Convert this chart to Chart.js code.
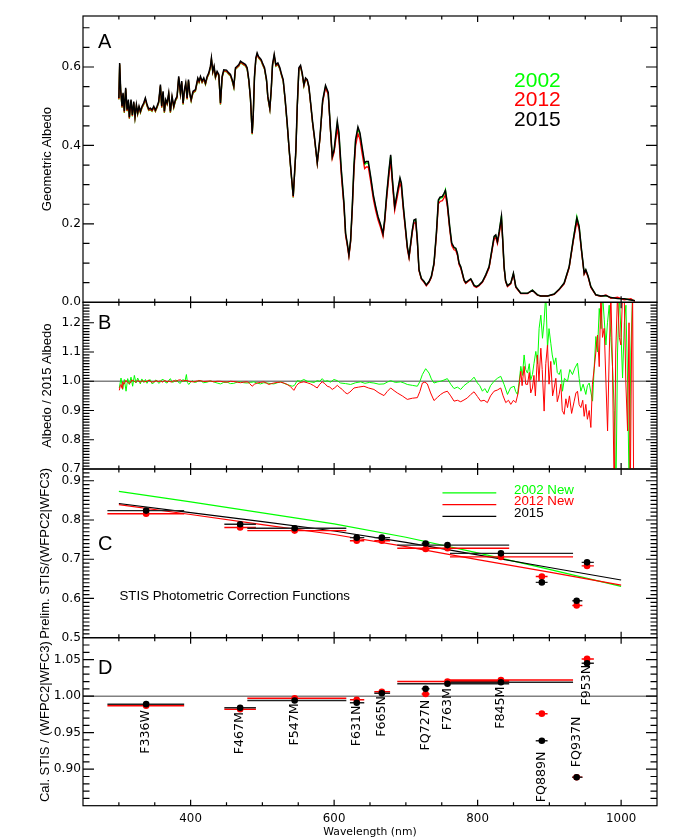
<!DOCTYPE html>
<html><head><meta charset="utf-8">
<script src="https://cdn.jsdelivr.net/npm/chart.js@4.4.1/dist/chart.umd.min.js"></script>
<style>
html,body{margin:0;padding:0;background:#fff;}
#wrap{position:relative;width:692px;height:840px;overflow:hidden;}
#wrap canvas{position:absolute;left:0;top:0;}
</style>
</head><body>
<div id="wrap">
<canvas id="cD" width="692" height="840"></canvas>
<canvas id="cC" width="692" height="840"></canvas>
<canvas id="cB" width="692" height="840"></canvas>
<canvas id="cA" width="692" height="840"></canvas>
</div>
<script>
// ---------------- DATA ----------------
// Panel A: geometric albedo spectra
const wavelengthA = [
300.0,301.1,302.5,304.4,305.8,307.6,309.5,311.4,313.2,314.6,
316.9,318.8,320.7,322.5,324.4,326.2,328.1,330.0,332.3,334.6,
336.9,339.3,341.6,343.9,346.2,348.6,350.9,353.2,355.5,357.9,
359.7,361.6,363.4,365.3,367.2,369.5,371.8,374.1,376.5,378.8,
381.1,383.4,385.8,387.6,389.5,391.4,393.2,395.1,397.0,398.8,
400.7,403.4,406.7,410.0,411.8,413.7,416.0,418.3,420.7,423.0,
425.3,427.6,429.0,430.9,432.7,434.6,436.9,439.3,441.6,443.9,
446.2,450.0,453.2,455.5,457.9,460.2,462.5,464.8,467.2,469.5,
471.8,474.1,476.5,478.8,481.1,483.4,485.8,487.2,489.0,490.9,
492.7,494.6,496.5,498.3,500.2,503.0,505.8,507.6,510.4,512.3,
514.1,516.5,518.8,521.6,524.4,526.2,529.0,531.8,534.6,537.4,
540.2,543.0,546.7,548.6,550.9,553.2,555.5,557.9,560.2,562.5,
564.8,567.2,570.0,572.7,576.5,580.2,584.0,588.0,591.8,595.0,
597.4,600.0,604.4,606.7,610.0,613.7,616.0,618.3,620.6,623.0,
625.3,627.6,629.9,633.2,636.0,639.2,642.5,644.8,647.6,650.9,
654.6,657.9,661.1,664.8,668.1,670.4,673.2,676.5,678.8,681.1,
684.4,687.1,689.5,691.8,693.7,696.5,699.7,702.0,704.4,706.7,
709.0,711.3,713.7,716.0,718.3,721.6,725.3,728.5,732.3,735.5,
739.2,742.5,745.3,747.6,750.9,753.2,755.1,757.8,761.1,763.9,
767.1,769.5,771.8,774.1,776.4,778.8,781.1,783.4,786.7,790.4,
792.7,795.1,798.3,802.0,806.7,811.3,816.0,820.6,823.0,825.3,
827.6,830.0,833.2,835.0,836.9,839.0,841.6,846.2,849.9,853.2,
860.2,869.5,876.4,883.4,888.0,897.4,906.7,913.6,920.6,927.6,
933.2,938.3,941.5,944.8,948.5,950.8,954.1,957.8,964.8,971.8,
978.8,985.7,995.0,1004.3,1013.6,1019.2];
const albedo2015 = [
.521,.610,.542,.500,.534,.487,.547,.491,.517,.472,
.517,.478,.512,.474,.504,.483,.500,.487,.500,.508,
.521,.504,.493,.495,.491,.500,.490,.500,.512,.555,
.500,.538,.487,.517,.508,.534,.487,.525,.500,.517,
.525,.576,.534,.564,.508,.542,.559,.521,.568,.534,
.517,.538,.542,.572,.564,.576,.564,.572,.559,.576,
.585,.602,.623,.589,.602,.576,.589,.581,.508,.576,
.593,.592,.585,.581,.568,.551,.598,.602,.606,.615,
.612,.609,.606,.598,.568,.521,.432,.474,.576,.623,
.636,.627,.623,.619,.610,.598,.568,.525,.495,.542,
.606,.632,.606,.610,.598,.585,.568,.517,.457,.389,
.329,.271,.389,.500,.598,.604,.585,.555,.572,.568,
.551,.510,.460,.420,.357,.420,.515,.553,.535,.440,
.372,.389,.461,.432,.338,.253,.176,.151,.121,.159,
.244,.347,.415,.447,.432,.393,.355,.359,.359,.321,
.274,.244,.219,.198,.175,.210,.274,.338,.376,.317,
.244,.270,.295,.317,.304,.244,.185,.142,.117,.151,
.185,.210,.212,.159,.083,.061,.053,.044,.053,.066,
.100,.176,.261,.268,.270,.278,.285,.253,.193,.151,
.140,.138,.125,.100,.091,.074,.057,.050,.055,.060,
.052,.043,.040,.044,.053,.070,.091,.142,.168,.172,
.155,.180,.219,.160,.091,.055,.042,.049,.074,.040,
.023,.023,.031,.019,.016,.016,.021,.033,.049,.091,
.159,.215,.193,.134,.074,.083,.066,.040,.019,.016,
.017,.012,.010,.009,.006,.004];
const albedo2002 = [
.517,.606,.538,.496,.530,.483,.543,.487,.513,.468,
.513,.474,.508,.470,.500,.479,.496,.483,.496,.504,
.517,.500,.489,.491,.487,.496,.486,.496,.508,.551,
.496,.534,.483,.513,.504,.530,.483,.521,.496,.513,
.521,.572,.530,.560,.504,.538,.555,.517,.564,.530,
.513,.534,.538,.568,.560,.572,.560,.568,.555,.572,
.581,.598,.619,.585,.598,.572,.585,.577,.504,.572,
.589,.588,.581,.577,.564,.547,.594,.598,.602,.611,
.608,.605,.602,.594,.564,.517,.428,.470,.572,.619,
.632,.623,.619,.615,.606,.594,.564,.521,.491,.538,
.602,.628,.602,.606,.594,.581,.564,.513,.453,.385,
.325,.267,.385,.496,.594,.600,.581,.551,.569,.565,
.548,.507,.457,.417,.354,.417,.512,.550,.532,.437,
.369,.386,.456,.428,.335,.250,.174,.149,.120,.157,
.242,.344,.411,.443,.428,.389,.351,.355,.355,.318,
.271,.242,.217,.196,.173,.208,.271,.335,.372,.314,
.242,.267,.292,.314,.301,.242,.183,.141,.116,.149,
.183,.208,.210,.157,.082,.060,.053,.044,.052,.065,
.099,.174,.258,.265,.267,.275,.287,.250,.191,.149,
.139,.137,.124,.099,.090,.073,.056,.049,.054,.059,
.051,.043,.040,.044,.052,.069,.090,.141,.166,.170,
.153,.178,.221,.158,.090,.054,.042,.049,.073,.040,
.023,.023,.031,.019,.016,.016,.021,.033,.049,.090,
.158,.219,.193,.133,.073,.082,.065,.040,.019,.016,
.017,.012,.010,.009,.006,.004];
const albedo2012 = [
.518,.607,.539,.497,.531,.484,.544,.488,.514,.469,
.514,.475,.509,.471,.501,.480,.497,.484,.497,.505,
.518,.501,.490,.492,.488,.497,.487,.497,.509,.552,
.497,.535,.484,.514,.505,.531,.484,.522,.497,.514,
.522,.573,.531,.561,.505,.539,.556,.518,.565,.531,
.514,.535,.539,.569,.561,.573,.561,.569,.556,.573,
.582,.599,.620,.586,.599,.573,.586,.578,.505,.573,
.590,.589,.582,.578,.565,.548,.595,.599,.603,.612,
.609,.606,.603,.595,.565,.518,.429,.471,.573,.620,
.633,.624,.620,.616,.607,.595,.565,.522,.492,.539,
.603,.629,.603,.607,.595,.582,.565,.514,.454,.386,
.326,.268,.386,.497,.595,.601,.582,.552,.569,.565,
.548,.506,.456,.416,.353,.415,.510,.547,.529,.434,
.366,.382,.443,.415,.324,.243,.169,.145,.116,.153,
.234,.333,.398,.430,.415,.377,.341,.345,.345,.308,
.263,.234,.210,.190,.168,.202,.263,.324,.361,.304,
.234,.259,.283,.304,.292,.234,.178,.136,.112,.145,
.178,.202,.204,.153,.080,.059,.051,.042,.051,.063,
.096,.169,.251,.257,.259,.267,.274,.243,.185,.145,
.134,.132,.120,.096,.087,.071,.055,.048,.053,.058,
.050,.041,.038,.042,.051,.067,.087,.136,.161,.165,
.149,.173,.210,.154,.087,.053,.040,.047,.071,.038,
.022,.022,.030,.018,.016,.016,.020,.032,.047,.088,
.154,.205,.186,.129,.071,.080,.063,.038,.018,.015,
.019,.010,.013,.006,.009,.002];

// Panel B: albedo ratios to 2015
const ratioWl2002 = [
300.6,303.0,305.3,307.6,310.0,312.3,314.6,316.9,319.2,321.6,
323.9,326.2,329.9,332.0,334.6,337.0,339.2,341.5,343.9,346.0,
348.5,351.0,353.2,355.5,357.9,360.0,362.5,365.0,367.2,369.5,
371.8,374.0,376.5,379.0,381.1,383.5,385.8,388.0,390.4,392.0,
394.1,395.5,397.4,400.0,402.0,405.5,409.0,411.5,413.7,418.0,
423.0,427.5,432.3,437.0,441.6,446.0,450.9,455.5,460.2,465.0,
469.5,474.0,478.8,483.5,488.1,492.5,497.4,502.0,506.7,511.5,
516.0,521.0,525.3,530.0,534.6,538.0,541.6,544.8,548.5,553.0,
557.8,562.5,567.1,572.0,576.4,580.0,583.4,587.0,590.4,595.0,
599.7,604.5,609.0,616.0,623.0,630.0,636.9,643.0,649.0,655.5,
662.5,669.5,674.0,678.8,685.5,692.7,697.5,702.0,709.0,716.0,
719.5,723.0,727.6,732.3,735.5,739.2,744.0,748.5,753.0,757.8,
762.5,767.1,771.8,776.4,781.0,785.7,790.5,795.0,799.7,803.0,
806.7,810.0,813.6,818.0,822.9,827.5,832.2,836.9,841.6,846.0,
850.9,853.0,855.5,858.0,860.2,862.5,864.8,867.0,869.5,872.0,
874.0,876.4,878.5,881.1,883.5,885.7,888.1,890.4,892.5,895.0,
897.4,899.5,902.0,904.0,906.7,909.0,911.0,913.6,916.0,918.3,
921.0,925.3,928.5,932.2,935.5,939.2,941.5,943.9,947.0,950.8,
953.0,955.5,958.0,960.2,962.5,964.8,967.0,969.5,972.0,974.1,
976.5,978.8,981.0,983.4,985.7,988.1,990.4,992.7,995.0,997.4,
1000.0,1002.0,1004.5,1006.7,1009.0,1011.3,1013.5,1016.0];
const ratio2002 = [
.977,1.011,.972,1.006,.966,1.009,.989,1.014,.983,1.020,
.994,1.011,.991,1.008,.996,1.006,.993,1.004,1.005,.992,
.994,1.004,1.002,.993,.997,1.006,1.005,.996,.994,1.003,
1.009,.997,.998,1.004,1.002,.995,.993,1.004,1.005,.998,
1.023,.996,.989,.997,1.002,.996,.998,1.003,1.002,.995,
.997,1.001,.998,.994,.991,.996,.997,.992,.993,.997,
.998,.995,.994,.996,.998,.994,.991,.995,.994,.992,
.991,.995,.998,.993,.989,.986,.983,.986,1.002,1.000,
1.006,1.000,.998,.996,1.002,1.000,1.009,.999,1.002,.997,
1.006,1.002,.994,.992,.989,.995,.998,.993,.996,.994,
.990,.991,.997,1.002,.996,.998,.994,.989,.986,.983,
.999,1.023,1.043,1.028,1.008,.994,.998,1.000,1.004,1.009,
.990,.975,.980,.972,.985,.994,1.002,1.014,.994,.985,
.966,.975,.960,.985,1.000,1.010,1.017,.989,.955,.978,
.983,.965,.955,1.000,1.051,1.020,1.090,1.040,1.028,1.060,
1.005,1.023,1.060,1.102,1.060,1.181,1.226,1.147,1.200,1.300,
1.113,1.180,1.130,1.090,1.057,1.080,1.030,1.023,1.040,.966,
1.010,1.000,1.040,1.023,1.045,1.062,1.010,.966,.990,.955,
.985,.994,.960,.932,1.050,1.153,1.100,1.249,1.180,1.300,
1.210,1.124,1.200,1.260,1.150,1.045,.900,.600,1.100,1.300,
1.150,1.011,1.200,1.260,1.000,.600,1.100,1.300];
const ratioWl2012 = [
300.6,302.0,303.0,304.5,305.3,306.5,307.6,309.5,311.3,313.5,
316.0,318.0,320.6,323.0,326.0,329.9,333.0,336.0,339.2,342.0,
345.0,348.5,352.0,355.0,357.9,361.0,364.0,367.2,370.0,373.0,
376.5,380.0,383.0,385.8,389.0,392.0,395.0,399.0,404.4,409.0,
413.7,418.0,423.0,427.5,432.3,437.0,441.6,446.0,450.9,455.5,
460.2,465.0,469.5,474.0,478.8,482.0,485.7,489.0,492.7,497.0,
502.0,505.5,509.0,512.5,516.0,520.5,525.3,530.0,534.6,539.0,
543.9,547.5,550.9,554.0,557.8,562.5,567.1,571.5,576.4,580.0,
583.4,587.0,590.4,594.0,597.4,601.0,604.4,608.0,611.4,615.0,
618.3,622.0,627.6,634.0,641.6,648.0,655.5,662.5,669.5,674.0,
678.8,683.5,688.1,695.0,702.0,709.0,716.0,719.5,723.0,726.5,
729.9,734.5,739.2,744.0,748.5,753.0,757.8,762.5,767.1,771.8,
776.4,781.0,785.7,790.5,795.0,799.7,804.3,809.0,813.6,818.0,
822.9,827.5,832.2,835.5,839.2,843.0,846.2,850.0,853.2,856.5,
858.5,860.2,862.0,864.8,867.0,869.5,872.0,874.0,876.4,878.5,
880.5,883.4,885.5,888.1,890.0,892.7,895.0,897.4,899.5,902.0,
904.5,906.7,909.0,911.0,913.6,916.0,918.0,920.6,923.0,925.3,
928.0,931.0,934.6,937.0,939.2,941.5,943.9,946.5,948.5,950.8,
953.0,955.5,957.8,960.0,962.5,964.8,967.1,969.5,971.8,974.0,
976.4,978.8,981.1,983.5,985.7,988.0,990.4,992.5,995.0,997.5,
999.7,1002.0,1004.3,1006.5,1009.0,1011.0,1012.7,1014.5,1016.0,1017.5,
1019.2];
const ratio2012 = [
.969,.985,.989,.975,.998,.990,.991,1.003,1.000,.993,
.994,1.004,1.002,.996,1.003,.997,1.002,.998,1.000,1.004,
.997,.998,1.002,.999,1.001,.997,1.003,.998,1.001,.997,
1.002,1.000,1.004,1.005,1.000,1.003,1.002,.999,.998,1.001,
1.002,.999,1.000,1.001,.998,1.000,1.000,.998,.997,1.000,
.999,.997,.995,.997,.998,.993,.983,.990,.994,.996,
.998,.994,.989,.992,.994,.996,.997,.994,.989,.982,
.969,.985,.994,.996,.998,.995,.991,.985,.977,.990,
.998,.992,.983,.980,.972,.978,.986,.978,.972,.962,
.957,.963,.977,.980,.983,.977,.972,.960,.951,.965,
.977,.968,.960,.950,.938,.942,.944,.965,.994,.997,
.991,.960,.934,.945,.955,.962,.966,.950,.932,.935,
.930,.936,.943,.955,.964,.948,.932,.935,.927,.950,
.966,.970,.977,.950,.927,.935,.921,.935,.927,.960,
1.000,1.034,.985,1.051,.990,.989,1.030,.960,.977,1.020,
.950,1.090,1.000,1.113,1.040,.898,1.060,1.124,.990,1.068,
.950,.977,1.010,.930,.955,.990,.900,.887,.940,.910,
.950,.890,.932,.960,.966,.920,.910,.935,.880,.921,
.870,.900,.842,.990,1.045,1.100,1.158,1.050,1.300,1.150,
1.181,1.000,.830,1.100,1.300,1.050,.600,1.100,1.300,1.150,
1.124,1.300,1.300,1.000,.830,1.200,.600,1.100,1.300,.600,
.600];

// Panel C: correction functions
const fitWl = [300,400,500,600,700,800,900,1000];
const fit2002 = [0.873,0.846,0.818,0.790,0.756,0.716,0.674,0.631];
const fit2012 = [0.839,0.814,0.788,0.763,0.732,0.699,0.667,0.634];
const fit2015 = [0.842,0.819,0.796,0.772,0.743,0.711,0.679,0.647];

// Filters (shared by panels C and D)
const filterName = ['F336W','F467M','F547M','F631N','F665N','FQ727N','F763M','F845M','FQ889N','FQ937N','F953N'];
const filterCenter = [338,469,545,631.5,666.5,727.5,758,832.5,889.5,938,952.5];
const bandLo = [284,447,479,622,656,722,688,761.5,881,932,945];
const bandHi = [391,491,617,642,678,733,844,933,897.5,946,962];
const prelim2015 = [0.824,0.789,0.779,0.755,0.755,0.740,0.736,0.715,0.641,0.594,0.692];
const prelim2012 = [0.816,0.781,0.773,0.747,0.747,0.726,0.728,0.706,0.656,0.582,0.683];
const cal2015 = [0.989,0.984,0.994,0.991,1.004,1.010,1.017,1.019,0.939,0.889,1.045];
const cal2012 = [0.987,0.982,0.997,0.995,1.006,1.003,1.020,1.022,0.976,0.889,1.051];

// Tick labels
const xTicks = [400,600,800,1000];
const yTicksA = [0.0,0.2,0.4,0.6];
const yTicksB = [0.7,0.8,0.9,1.0,1.1,1.2];
const yTicksC = [0.5,0.6,0.7,0.8,0.9];
const yTicksD = [0.90,0.95,1.00,1.05];

// ---------------- RENDERING ----------------
const LIB = '"Liberation Sans", Arial, Helvetica, sans-serif';
const DJV = '"DejaVu Sans", Verdana, sans-serif';
Chart.defaults.font.family = LIB;
Chart.defaults.color = '#000';

const W = 692, H = 840, PLOT_L = 83, PLOT_R = 657;
const GREEN = '#00ff00', RED = '#ff0000', BLACK = '#000000';
const pts = (xs, ys) => xs.map((x, i) => ({x, y: ys[i]}));
const barPts = vals => {
  const out = [];
  filterName.forEach((f, i) => { out.push({x: bandLo[i], y: vals[i]}, {x: bandHi[i], y: vals[i]}, {x: bandHi[i], y: null}); });
  return out;
};
const lineDs = (data, color, width) => ({data, showLine: true, borderColor: color, backgroundColor: color, borderWidth: width, pointRadius: 0, tension: 0, spanGaps: false});
const dotDs = (data, color) => ({data, showLine: false, pointRadius: 3.3, pointHoverRadius: 3.3, pointBackgroundColor: color, pointBorderColor: color, pointBorderWidth: 0});

const frameTicks = {
  id: 'frameTicks',
  afterDatasetsDraw(chart, args, o) {
    const ctx = chart.ctx, a = chart.chartArea, xs = chart.scales.x, ys = chart.scales.y;
    ctx.save();
    ctx.strokeStyle = '#000';
    ctx.lineWidth = 1.2;
    ctx.strokeRect(a.left, a.top, a.right - a.left, a.bottom - a.top);
    ctx.beginPath();
    for (let i = Math.ceil(xs.min / o.xMinor - 1e-6); i <= Math.floor(xs.max / o.xMinor + 1e-6); i++) {
      const v = i * o.xMinor, p = xs.getPixelForValue(v);
      if (p <= a.left + 1 || p >= a.right - 1) continue;
      const L = xTicks.some(m => Math.abs(m - v) < 1e-6) ? 6 : 3.5;
      ctx.moveTo(p, a.bottom); ctx.lineTo(p, a.bottom - L);
      ctx.moveTo(p, a.top); ctx.lineTo(p, a.top + L);
    }
    for (let i = Math.ceil(ys.min / o.yMinor - 1e-6); i <= Math.floor(ys.max / o.yMinor + 1e-6); i++) {
      const v = i * o.yMinor, p = ys.getPixelForValue(v);
      if (p <= a.top + 1 || p >= a.bottom - 1) continue;
      const L = o.yMajor.some(m => Math.abs(m - v) < o.yMinor / 10) ? 11 : 6.5;
      ctx.moveTo(a.left, p); ctx.lineTo(a.left + L, p);
      ctx.moveTo(a.right, p); ctx.lineTo(a.right - L, p);
    }
    ctx.stroke();
    for (const t of (o.texts || [])) {
      ctx.save();
      ctx.font = t.font;
      ctx.fillStyle = t.color || '#000';
      ctx.textAlign = t.align || 'left';
      ctx.textBaseline = t.baseline || 'alphabetic';
      ctx.translate(xs.getPixelForValue(t.x), ys.getPixelForValue(t.y));
      if (t.rot) ctx.rotate(t.rot);
      ctx.fillText(t.text, 0, 0);
      ctx.restore();
    }
    ctx.restore();
  }
};

function makePanel(id, p) {
  const showX = !!p.showX;
  return new Chart(document.getElementById(id), {
    type: 'scatter',
    data: {datasets: p.datasets},
    options: {
      responsive: false, animation: false, devicePixelRatio: 1,
      events: [],
      layout: {padding: {left: 0, right: W - PLOT_R, top: p.top, bottom: showX ? 0 : H - p.bottom}},
      plugins: {legend: {display: false}, tooltip: {enabled: false},
        frameTicks: {xMinor: 50, yMinor: p.yMinor, yMajor: p.yTicks, texts: p.texts}},
      scales: {
        x: {
          type: 'linear', min: 250, max: 1050, display: showX, position: 'bottom',
          grid: {display: false, drawTicks: false}, border: {display: false},
          afterBuildTicks: s => { s.ticks = xTicks.map(v => ({value: v})); },
          ticks: {padding: 6, font: {family: DJV, size: 11.8}, color: '#000', maxRotation: 0, autoSkip: false, callback: v => String(v)},
          title: {display: showX, text: 'Wavelength (nm)', font: {family: DJV, size: 10.8}, color: '#000', padding: {top: 0, bottom: 1.5}},
          afterFit: s => { if (showX) s.height = H - p.bottom; s.paddingLeft = 0; s.paddingRight = 0; }
        },
        y: {
          type: 'linear', min: p.ymin, max: p.ymax, position: 'left',
          grid: {display: false, drawTicks: false}, border: {display: false},
          afterBuildTicks: s => { s.ticks = p.yTicks.map(v => ({value: v})); },
          ticks: {padding: 2, font: {family: DJV, size: 12.2}, color: '#000', autoSkip: false, callback: v => v.toFixed(p.dec)},
          title: {display: true, text: p.title, font: {family: LIB, size: 13}, color: '#000', padding: {top: p.titlePad, bottom: 0}},
          afterFit: s => { s.width = PLOT_L; s.paddingTop = 0; s.paddingBottom = 0; }
        }
      }
    },
    plugins: [frameTicks]
  });
}

const F20 = '20px ' + LIB;
const F21 = '21px ' + LIB;
const F13 = '13.3px ' + LIB;
const FLAB = '12.6px ' + DJV;

// Panel A
makePanel('cA', {
  top: 16, bottom: 302.3, ymin: 0, ymax: 0.73, yTicks: yTicksA, yMinor: 0.05, dec: 1,
  title: 'Geometric Albedo', titlePad: 39.2,
  datasets: [
    lineDs(pts(wavelengthA, albedo2015), BLACK, 1.5),
    lineDs(pts(wavelengthA, albedo2012), RED, 1.3),
    lineDs(pts(wavelengthA, albedo2002), GREEN, 1.3)
  ],
  texts: [
    {text: 'A', x: 271, y: 0.649, font: F20},
    {text: '2002', x: 850.8, y: 0.549, font: F21, color: GREEN},
    {text: '2012', x: 850.8, y: 0.500, font: F21, color: RED},
    {text: '2015', x: 850.8, y: 0.450, font: F21, color: BLACK}
  ]
});

// Panel B
makePanel('cB', {
  top: 302.3, bottom: 469, ymin: 0.7, ymax: 1.27, yTicks: yTicksB, yMinor: 0.01, dec: 1,
  title: 'Albedo / 2015 Albedo', titlePad: 39.2,
  datasets: [
    lineDs(pts(ratioWl2012, ratio2012), RED, 1),
    lineDs(pts(ratioWl2002, ratio2002), GREEN, 1),
    lineDs([{x: 250, y: 1}, {x: 1050, y: 1}], '#808080', 1.5)
  ],
  texts: [{text: 'B', x: 271, y: 1.179, font: F20}]
});

// Panel C
const legendLineWl = [751, 826];
makePanel('cC', {
  top: 469, bottom: 637.7, ymin: 0.5, ymax: 0.93, yTicks: yTicksC, yMinor: 0.01, dec: 1,
  title: 'Prelim. STIS/(WFPC2|WFC3)', titlePad: 37.5,
  datasets: [
    dotDs(pts(filterCenter, prelim2015), BLACK),
    dotDs(pts(filterCenter, prelim2012), RED),
    lineDs(barPts(prelim2015), '#222', 1.4),
    lineDs(barPts(prelim2012), RED, 1.4),
    lineDs(pts(fitWl, fit2015), BLACK, 1.2),
    lineDs(pts(fitWl, fit2012), RED, 1.2),
    lineDs(pts(fitWl, fit2002), GREEN, 1.2),
    lineDs(pts(legendLineWl, [0.869, 0.869]), GREEN, 1.2),
    lineDs(pts(legendLineWl, [0.839, 0.839]), RED, 1.2),
    lineDs(pts(legendLineWl, [0.809, 0.809]), BLACK, 1.2)
  ],
  texts: [
    {text: 'C', x: 271, y: 0.724, font: F20},
    {text: '2002 New', x: 850.8, y: 0.866, font: F13, color: GREEN},
    {text: '2012 New', x: 850.8, y: 0.837, font: F13, color: RED},
    {text: '2015', x: 850.8, y: 0.807, font: F13, color: BLACK},
    {text: 'STIS Photometric Correction Functions', x: 300.8, y: 0.596, font: F13}
  ]
});

// Panel D
const labelTopD = [0.981, 0.978, 0.990, 0.987, 1.000, 0.995, 1.011, 1.013, 0.924, 0.972, 1.043];
makePanel('cD', {
  top: 637.7, bottom: 805.7, showX: true, ymin: 0.85, ymax: 1.08, yTicks: yTicksD, yMinor: 0.01, dec: 2,
  title: 'Cal. STIS / (WFPC2|WFC3)', titlePad: 37.5,
  datasets: [
    dotDs(pts(filterCenter, cal2015), BLACK),
    dotDs(pts(filterCenter, cal2012), RED),
    lineDs(barPts(cal2015), '#222', 1.5),
    lineDs(barPts(cal2012), RED, 1.5),
    lineDs([{x: 250, y: 1}, {x: 1050, y: 1}], '#808080', 1.5)
  ],
  texts: [{text: 'D', x: 271, y: 1.030, font: F20}].concat(
    filterName.map((f, i) => ({text: f, x: filterCenter[i], y: labelTopD[i], font: FLAB, align: 'right', baseline: 'middle', rot: -Math.PI / 2}))
  )
});
</script>
</body></html>
